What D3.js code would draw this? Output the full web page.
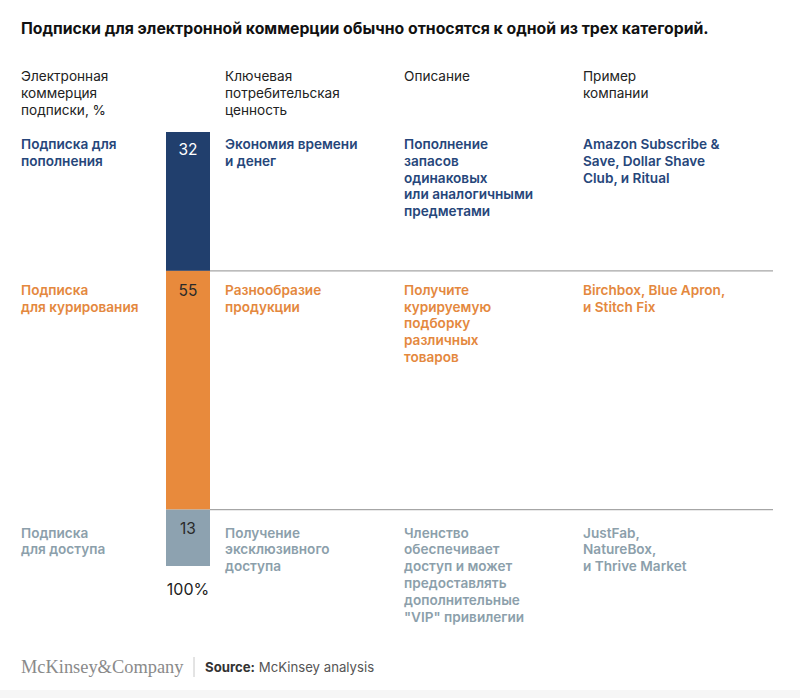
<!DOCTYPE html>
<html>
<head>
<meta charset="utf-8">
<script src="https://cdn.jsdelivr.net/npm/d3@7"></script>
<style>
  body { margin: 0; background: #fff; }
  text { font-family: Inter, "Noto Sans", sans-serif; }
</style>
</head>
<body>
<script>
// данные
var categories = ["Подписка для пополнения", "Подписка для курирования", "Подписка для доступа"];
var shares = [32, 55, 13];
var categoryLines = [["Подписка для", "пополнения"], ["Подписка", "для курирования"], ["Подписка", "для доступа"]];
var valueLines = [["Экономия времени", "и денег"], ["Разнообразие", "продукции"], ["Получение", "эксклюзивного", "доступа"]];
var descLines = [
  ["Пополнение", "запасов", "одинаковых", "или аналогичными", "предметами"],
  ["Получите", "курируемую", "подборку", "различных", "товаров"],
  ["Членство", "обеспечивает", "доступ и может", "предоставлять", "дополнительные", "\"VIP\" привилегии"]
];
var exampleLines = [["Amazon Subscribe &", "Save, Dollar Shave", "Club, и Ritual"], ["Birchbox, Blue Apron,", "и Stitch Fix"], ["JustFab,", "NatureBox,", "и Thrive Market"]];
var headers = [["Электронная", "коммерция", "подписки, %"], ["Ключевая", "потребительская", "ценность"], ["Описание"], ["Пример", "компании"]];
var colors = ["#213f6d", "#e88a3c", "#8da2b0"];
var textColors = ["#26467a", "#e4883e", "#8c9fab"];
var numColors = ["#ffffff", "#2a2a2a", "#2a2a2a"];

var width = 800, height = 698;
var svg = d3.select("body").append("svg")
  .attr("width", width)
  .attr("height", height);

// фон внизу
svg.append("rect").attr("x", 0).attr("y", 690).attr("width", width).attr("height", 8).attr("fill", "#f6f6f6");

// заголовок
svg.append("text")
  .attr("x", 21).attr("y", 34)
  .attr("font-size", 15.8).attr("font-weight", 700).attr("fill", "#111")
  .text("Подписки для электронной коммерции обычно относятся к одной из трех категорий.");

var colX = [21, 225, 404, 583];
var lineH = 16.8;
var fs = 13.6;

// шапка колонок
headers.forEach(function(h, i) {
  var t = svg.append("text").attr("x", colX[i]).attr("y", 81)
    .attr("font-size", fs).attr("fill", "#222");
  h.forEach(function(s, j) {
    t.append("tspan").attr("x", colX[i]).attr("dy", j === 0 ? 0 : lineH).text(s);
  });
});

// шкала
var total = d3.sum(shares);
var y = d3.scaleLinear().domain([0, total]).range([132, 566]);
var cum = d3.cumsum(shares);
var starts = shares.map(function(d, i) { return cum[i] - d; });

var barX = 166, barW = 44;
svg.selectAll("rect.seg")
  .data(shares)
  .enter().append("rect")
  .attr("class", "seg")
  .attr("x", barX)
  .attr("y", function(d, i) { return y(starts[i]); })
  .attr("width", barW)
  .attr("height", function(d) { return y(d) - y(0); })
  .attr("fill", function(d, i) { return colors[i]; });

// разделители
svg.selectAll("line.sep")
  .data(starts.slice(1))
  .enter().append("line")
  .attr("x1", barX + barW).attr("x2", 773)
  .attr("y1", function(d) { return y(d); })
  .attr("y2", function(d) { return y(d); })
  .attr("stroke", "#a6a6a6").attr("stroke-width", 1.2);

// числа на столбце
svg.selectAll("text.num")
  .data(shares)
  .enter().append("text")
  .attr("class", "num")
  .attr("x", barX + barW / 2)
  .attr("y", function(d, i) { return y(starts[i]) + [23, 25, 24][i]; })
  .attr("text-anchor", "middle")
  .attr("font-size", 15.5)
  .attr("fill", function(d, i) { return numColors[i]; })
  .text(function(d) { return d; });

svg.append("text")
  .attr("x", barX + barW / 2).attr("y", y(total) + 29)
  .attr("text-anchor", "middle").attr("font-size", 16).attr("fill", "#222")
  .text(total + "%");

// строки таблицы
var rowPad = [17, 24, 28];
function block(lines, col, row, weight) {
  var t = svg.append("text")
    .attr("x", colX[col])
    .attr("y", y(starts[row]) + rowPad[row])
    .attr("font-size", fs)
    .attr("font-weight", weight)
    .attr("fill", textColors[row]);
  lines.forEach(function(s, j) {
    t.append("tspan").attr("x", colX[col]).attr("dy", j === 0 ? 0 : lineH).text(s);
  });
}
categories.forEach(function(c, i) {
  block(categoryLines[i], 0, i, 600);
  block(valueLines[i], 1, i, 600);
  block(descLines[i], 2, i, 600);
  block(exampleLines[i], 3, i, 600);
});

// подвал
svg.append("text")
  .attr("x", 21).attr("y", 673)
  .style("font-family", "'Liberation Serif', serif")
  .attr("font-size", 18.4).attr("fill", "#8a8a8a")
  .text("McKinsey&Company");
svg.append("line")
  .attr("x1", 194).attr("x2", 194).attr("y1", 657).attr("y2", 677)
  .attr("stroke", "#c8c8c8");
var src = svg.append("text").attr("x", 205).attr("y", 672).attr("font-size", 13.2).attr("fill", "#333");
src.append("tspan").attr("font-weight", 700).text("Source:");
src.append("tspan").attr("fill", "#555").text(" McKinsey analysis");
</script>
</body>
</html>
